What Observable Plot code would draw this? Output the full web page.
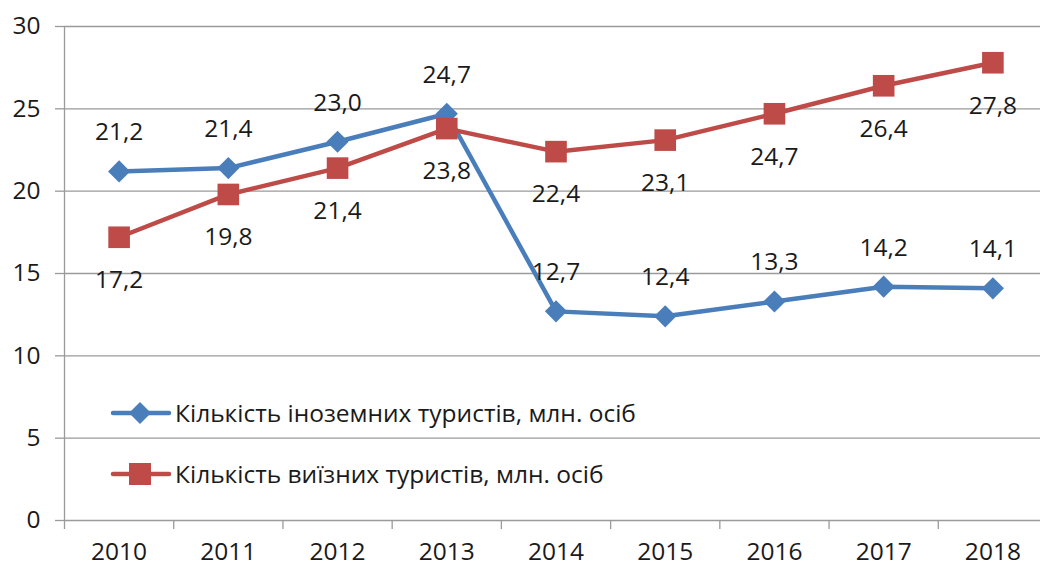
<!DOCTYPE html>
<html>
<head>
<meta charset="utf-8">
<script src="https://cdn.jsdelivr.net/npm/d3@7"></script>
<script src="https://cdn.jsdelivr.net/npm/@observablehq/plot@0.6"></script>
<style>
  html, body { margin: 0; padding: 0; background: #fff; }
  #wrap { position: relative; width: 1042px; height: 572px; font-family: "Open Sans", sans-serif; }
  .leg { position: absolute; left: 110px; display: flex; align-items: center; font-size: 24.5px; color: #1a1a1a; white-space: nowrap; }
  .leg svg { margin-right: 3px; }
</style>
</head>
<body>
<div id="wrap"></div>
<script>
const years = [2010, 2011, 2012, 2013, 2014, 2015, 2016, 2017, 2018];
const foreignTourists = [21.2, 21.4, 23.0, 24.7, 12.7, 12.4, 13.3, 14.2, 14.1];
const outboundTourists = [17.2, 19.8, 21.4, 23.8, 22.4, 23.1, 24.7, 26.4, 27.8];
const seriesNames = ["Кількість іноземних туристів, млн. осіб", "Кількість виїзних туристів, млн. осіб"];
const yTicks = [0, 5, 10, 15, 20, 25, 30];

const blue = "#4a7ebb";
const red = "#be4b48";
const gray = "#9a9a9a";
const fmt = v => v.toFixed(1).replace(".", ",");

const foreign = years.map((y, i) => ({year: y, value: foreignTourists[i]}));
const outbound = years.map((y, i) => ({year: y, value: outboundTourists[i]}));
const boundaries = [...years.map(y => y - 0.5), years[years.length - 1] + 0.5];

const chart = Plot.plot({
  width: 1042,
  height: 572,
  marginLeft: 64,
  marginRight: 2,
  marginTop: 26,
  marginBottom: 52,
  style: {fontFamily: "'Open Sans', sans-serif", fontSize: "24.5px", color: "#1a1a1a", background: "#fff"},
  x: {domain: [boundaries[0], boundaries[boundaries.length - 1]], range: [64, 1047]},
  y: {domain: [0, 30]},
  marks: [
    Plot.gridY(yTicks, {stroke: gray, strokeOpacity: 1, strokeWidth: 1.3}),
    Plot.ruleX([boundaries[0]], {stroke: gray, strokeWidth: 1.3}),
    Plot.axisY({ticks: yTicks, tickSize: 9, tickPadding: 15, stroke: gray, strokeWidth: 1.3, label: null, tickFormat: d => String(d)}),
    Plot.axisX({ticks: boundaries, tickSize: 9, stroke: gray, strokeWidth: 1.3, tickFormat: () => "", label: null}),
    Plot.axisX({ticks: years, tickSize: 0, tickPadding: 22, tickFormat: d => String(d), label: null}),
    Plot.line(foreign, {x: "year", y: "value", stroke: blue, strokeWidth: 4.5}),
    Plot.dot(foreign, {x: "year", y: "value", symbol: "diamond2", r: 10, fill: blue, stroke: "none"}),
    Plot.line(outbound, {x: "year", y: "value", stroke: red, strokeWidth: 4.5}),
    Plot.dot(outbound, {x: "year", y: "value", symbol: "square", r: 12.2, fill: red, stroke: "none"}),
    Plot.text(foreign, {x: "year", y: "value", text: d => fmt(d.value), dy: -39, fill: "#1a1a1a", fontSize: 24.5}),
    Plot.text(outbound, {x: "year", y: "value", text: d => fmt(d.value), dy: 43, fill: "#1a1a1a", fontSize: 24.5})
  ]
});

const wrap = document.getElementById("wrap");
wrap.appendChild(chart);

function legendItem(name, color, symbol, top) {
  const div = document.createElement("div");
  div.className = "leg";
  div.style.top = top + "px";
  const sym = symbol === "diamond"
    ? `<path d="M30,1 L41,12 L30,23 L19,12 Z" fill="${color}"/>`
    : `<rect x="19" y="1" width="22" height="22" fill="${color}"/>`;
  div.innerHTML = `<svg width="62" height="24"><line x1="3" y1="12" x2="59" y2="12" stroke="${color}" stroke-width="4.5" stroke-linecap="round"/>${sym}</svg><span>${name}</span>`;
  wrap.appendChild(div);
}
legendItem(seriesNames[0], blue, "diamond", 396);
legendItem(seriesNames[1], red, "square", 457);
</script>
</body>
</html>
